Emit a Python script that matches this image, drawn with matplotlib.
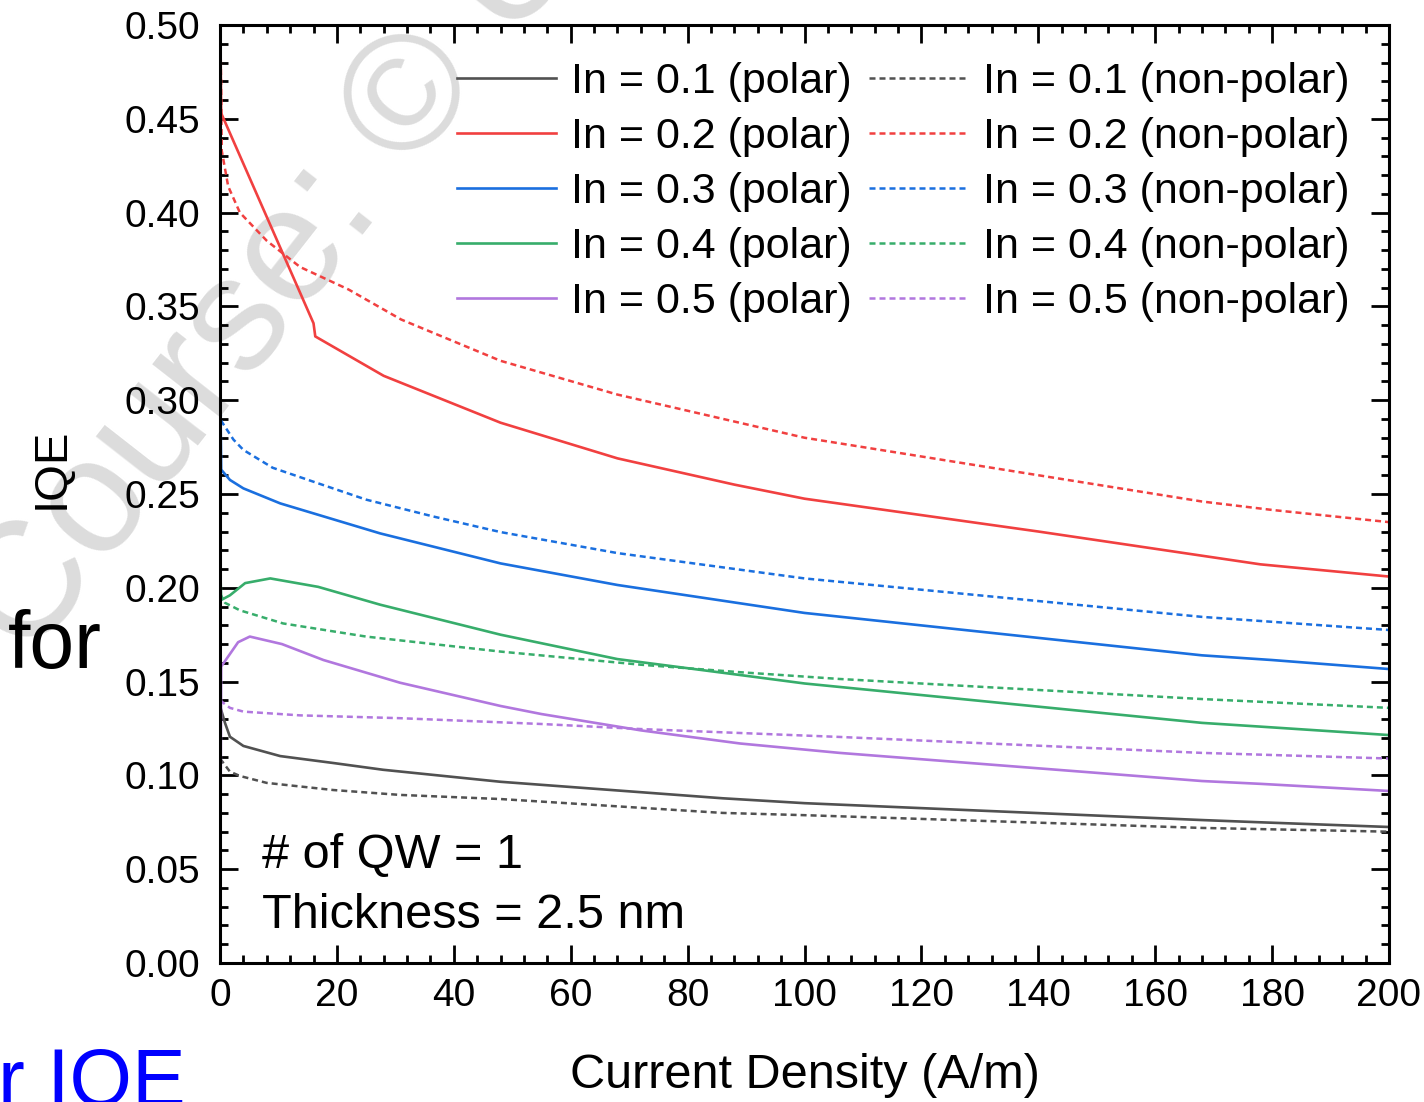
import matplotlib
matplotlib.use("Agg")
import matplotlib.pyplot as plt
from matplotlib.ticker import MultipleLocator, FormatStrFormatter

plt.rcParams['font.family'] = ['Liberation Sans', 'DejaVu Sans']

# ---------------- data ----------------
labels_polar = ["In = 0.1 (polar)", "In = 0.2 (polar)", "In = 0.3 (polar)",
                "In = 0.4 (polar)", "In = 0.5 (polar)"]
labels_np = ["In = 0.1 (non-polar)", "In = 0.2 (non-polar)", "In = 0.3 (non-polar)",
             "In = 0.4 (non-polar)", "In = 0.5 (non-polar)"]
colors = ["#515151", "#F14040", "#1A6FDF", "#37AD6B", "#B177DE"]

# polar (solid)
x_p1 = [0, 0.85, 1.7, 4, 10.3, 19.4, 27.9, 48, 86, 100, 168, 178, 200]
y_p1 = [0.137, 0.128, 0.1206, 0.1157, 0.1103, 0.1066, 0.103, 0.0966, 0.0878, 0.0852, 0.0762, 0.075, 0.0725]
x_p2 = [0, 0.2, 16.0, 16.3, 28, 48, 68, 88, 100, 140, 178, 200]
y_p2 = [0.52, 0.453, 0.341, 0.334, 0.313, 0.288, 0.269, 0.255, 0.2475, 0.230, 0.2125, 0.206]
x_p3 = [0, 0.2, 1.7, 4, 10.3, 27.4, 48, 68, 100, 168, 180, 200]
y_p3 = [0.32, 0.263, 0.2575, 0.253, 0.245, 0.229, 0.213, 0.2015, 0.1866, 0.164, 0.1615, 0.1567]
x_p4 = [0, 0.2, 1.7, 4.3, 8.6, 16.8, 27.4, 48, 68, 89, 100, 168, 178, 200]
y_p4 = [0.216, 0.1935, 0.196, 0.2025, 0.205, 0.2005, 0.191, 0.175, 0.162, 0.1535, 0.149, 0.128, 0.126, 0.1215]
x_p5 = [0, 0.2, 3.1, 5.1, 10.6, 17.7, 30.8, 48, 55, 72, 89, 106, 168, 178, 200]
y_p5 = [0.0, 0.158, 0.171, 0.174, 0.170, 0.1615, 0.1494, 0.137, 0.1327, 0.124, 0.117, 0.112, 0.097, 0.0955, 0.0917]

# non-polar (dashed)
x_n1 = [0, 1.7, 3.4, 8, 19.4, 30.8, 48, 86, 100, 168, 200]
y_n1 = [0.109, 0.102, 0.0997, 0.096, 0.0922, 0.0896, 0.0874, 0.0800, 0.0788, 0.072, 0.070]
x_n2 = [0, 0.3, 1.4, 3.4, 8, 13.7, 22, 31, 48, 68, 100, 134, 168, 180, 200]
y_n2 = [0.52, 0.433, 0.414, 0.400, 0.385, 0.371, 0.359, 0.343, 0.321, 0.303, 0.280, 0.263, 0.246, 0.2415, 0.235]
x_n3 = [0, 0.2, 2.3, 4, 9, 16.5, 25, 36.5, 48, 68, 100, 168, 200]
y_n3 = [0.30, 0.289, 0.279, 0.2735, 0.264, 0.256, 0.247, 0.238, 0.2297, 0.2185, 0.205, 0.1845, 0.1775]
x_n4 = [0, 0.85, 3.4, 10.8, 25, 48, 72, 89, 106, 168, 200]
y_n4 = [0.197, 0.192, 0.188, 0.181, 0.174, 0.166, 0.159, 0.155, 0.1514, 0.1407, 0.136]
x_n5 = [0, 1.7, 4, 13.7, 30.8, 55, 72, 89, 106, 168, 200]
y_n5 = [0.140, 0.136, 0.134, 0.132, 0.1305, 0.1274, 0.1247, 0.1226, 0.1205, 0.112, 0.109]

polar = [(x_p1, y_p1), (x_p2, y_p2), (x_p3, y_p3), (x_p4, y_p4), (x_p5, y_p5)]
nonpolar = [(x_n1, y_n1), (x_n2, y_n2), (x_n3, y_n3), (x_n4, y_n4), (x_n5, y_n5)]

xticks = [0, 20, 40, 60, 80, 100, 120, 140, 160, 180, 200]
yticks = [0.00, 0.05, 0.10, 0.15, 0.20, 0.25, 0.30, 0.35, 0.40, 0.45, 0.50]

annotation_lines = ["# of QW = 1", "Thickness = 2.5 nm"]

# ---------------- figure ----------------
fig = plt.figure(figsize=(14.24, 11.02), dpi=100)
ax = fig.add_axes([220/1424, 1-963/1102, (1389-220)/1424, (963-25)/1102])
ax.set_facecolor('none')

# watermark / slide fragments
fig.text(0.165, 0.70, "s Course: \u00a9 U", fontsize=118, color="#dcdcdc",
         rotation=52, ha='center', va='center', zorder=-5)
fig.text(8/1424, 1-668/1102, "for", fontsize=58, color="black", va='baseline', ha='left')
fig.text(-2/1424, 1-1106/1102, "r IQE", fontsize=58, color="#0000FF", va='baseline', ha='left')

dash = (0, (2.4, 1.6))
h_p, h_n = [], []
for i in range(5):
    xp, yp = polar[i]
    xn, yn = nonpolar[i]
    l1, = ax.plot(xp, yp, color=colors[i], lw=1.9, label=labels_polar[i])
    l2, = ax.plot(xn, yn, color=colors[i], lw=1.8, ls=dash, label=labels_np[i])
    h_p.append(l1)
    h_n.append(l2)

ax.set_xlim(0, 200)
ax.set_ylim(0, 0.5)
ax.set_xticks(xticks)
ax.set_yticks(yticks)
ax.xaxis.set_minor_locator(MultipleLocator(4))
ax.yaxis.set_minor_locator(MultipleLocator(0.01))
ax.yaxis.set_major_formatter(FormatStrFormatter('%.2f'))
ax.tick_params(which='both', direction='in', top=True, right=True, width=2.0)
ax.tick_params(which='major', length=13)
ax.tick_params(which='minor', length=6)
ax.tick_params(axis='x', which='major', labelsize=28, pad=11)
ax.tick_params(axis='y', which='major', labelsize=28, pad=14)
for s in ax.spines.values():
    s.set_linewidth(2.2)

ax.set_xlabel("Current Density (A/m)", fontsize=35, labelpad=28)
ax.set_ylabel("IQE", fontsize=34)
ax.yaxis.set_label_coords((74-220)/1169, (963-468)/938)

ax.text((262-220)/1169, (963-868)/938, annotation_lines[0], fontsize=35,
        transform=ax.transAxes, va='baseline')
ax.text((262-220)/1169, (963-928)/938, annotation_lines[1], fontsize=35,
        transform=ax.transAxes, va='baseline')

leg = ax.legend(h_p + h_n, labels_polar + labels_np, ncol=2, loc='upper right',
                bbox_to_anchor=((1350-220)/1169, 1-(62-25)/938), frameon=False,
                fontsize=31, handlelength=2.3, handletextpad=0.35, columnspacing=0.4,
                labelspacing=0.35, borderpad=0, borderaxespad=0)

fig.savefig("out.png", dpi=100)
